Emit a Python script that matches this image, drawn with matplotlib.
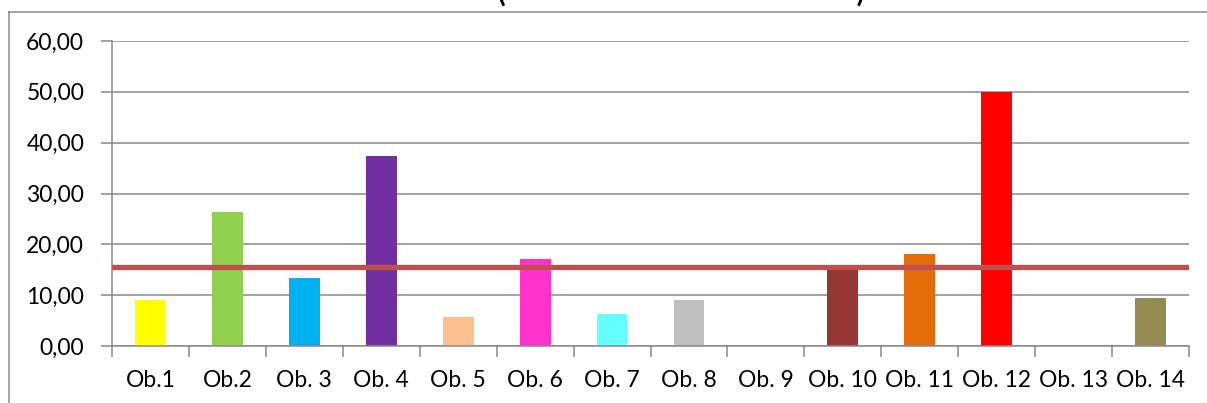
import numpy as np
import matplotlib.pyplot as plt
from matplotlib.lines import Line2D
from matplotlib.ticker import FuncFormatter

labels = ["Ob.1", "Ob.2", "Ob. 3", "Ob. 4", "Ob. 5", "Ob. 6", "Ob. 7",
          "Ob. 8", "Ob. 9", "Ob. 10", "Ob. 11", "Ob. 12", "Ob. 13", "Ob. 14"]
values = [9.0, 26.4, 13.4, 37.4, 5.7, 17.1, 6.3, 9.0, 0.0, 15.3, 18.1, 50.0, 0.0, 9.4]
colors = ["#FFFF00", "#92D050", "#00B0F0", "#7030A0", "#FAC090", "#FF33CC", "#66FFFF",
          "#BFBFBF", "#FFFFFF", "#953735", "#E46C0A", "#FF0000", "#FFFFFF", "#948A54"]
mean_value = 15.6

plt.rcParams['font.family'] = ['Lato', 'DejaVu Sans']
grey = "#8A8A8A"

fig = plt.figure(figsize=(12.07, 4.03), dpi=100)
ax = fig.add_axes([0.0928, 0.1414, 0.8923, 0.7569])

x = np.arange(len(labels))
ax.bar(x, values, width=0.4, color=colors, zorder=2)
ax.axhline(mean_value, color="#C0504D", linewidth=3.8, zorder=3)

ax.set_xlim(-0.5, len(labels) - 0.5)
ax.set_ylim(0, 60)
ax.set_yticks(np.arange(0, 61, 10))
ax.yaxis.set_major_formatter(FuncFormatter(lambda v, p: f"{v:.2f}".replace(".", ",")))
ax.yaxis.grid(True, color=grey, linewidth=1.1, zorder=0)

# category labels in the middle, tick marks on the boundaries
ax.set_xticks(x)
ax.set_xticklabels(labels)
ax.set_xticks(np.arange(-0.5, len(labels)), minor=True)
ax.tick_params(axis='x', which='major', length=0, pad=17, labelsize=16.5)
ax.tick_params(axis='x', which='minor', length=8, width=1.1, color=grey)
ax.tick_params(axis='y', length=8, width=1.1, color=grey, pad=12, labelsize=16.5)

for side in ["top", "right"]:
    ax.spines[side].set_visible(False)
for side in ["left", "bottom"]:
    ax.spines[side].set_color(grey)
    ax.spines[side].set_linewidth(1.1)

# chart area frame
top = 1 - 12 / 403
left = 9 / 1207
fig.add_artist(Line2D([left, 1.0], [top, top], color=grey, linewidth=1.1))
fig.add_artist(Line2D([left, left], [top, 0.0], color=grey, linewidth=1.1))

fig.text(0.564, 0.995, "(" + " " * 52 + ")",
         ha='center', va='baseline', fontsize=20, fontweight='bold')

fig.savefig("out.png", dpi=100)
